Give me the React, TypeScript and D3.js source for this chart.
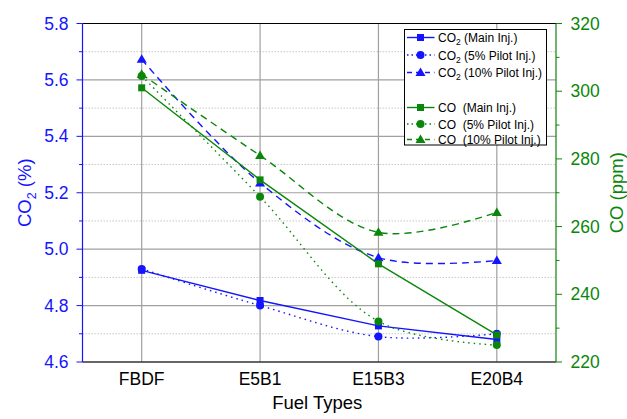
import * as React from "react";
import * as d3 from "d3";

const fuels = ["FBDF", "E5B1", "E15B3", "E20B4"];

// CO2 (%) - left axis
const co2Main = [4.925, 4.818, 4.728, 4.68];
const co2Pilot5 = [4.93, 4.80, 4.69, 4.70];
const co2Pilot10 = [5.673, 5.235, 4.97, 4.96];

// CO (ppm) - right axis
const coMain = [301, 273.8, 249, 228];
const coPilot5 = [304.5, 268.8, 232, 225];
const coPilot10 = [305, 281, 258.3, 264.2];

const co2Ticks = [4.6, 4.8, 5.0, 5.2, 5.4, 5.6, 5.8];
const coTicks = [220, 240, 260, 280, 300, 320];

const BLUE = "#1414ff";
const GREEN = "#0a870a";
const FONT = "Liberation Sans, Arial, sans-serif";

type Series = {
  name: string;
  sub: boolean;
  label: string;
  values: number[];
  axis: "left" | "right";
  color: string;
  dash: string;
  marker: "square" | "circle" | "triangle";
  smooth: boolean;
};

const series: Series[] = [
  { name: "CO", sub: true, label: " (Main Inj.)", values: co2Main, axis: "left", color: BLUE, dash: "", marker: "square", smooth: false },
  { name: "CO", sub: true, label: " (5% Pilot Inj.)", values: co2Pilot5, axis: "left", color: BLUE, dash: "1.5,4", marker: "circle", smooth: true },
  { name: "CO", sub: true, label: " (10% Pilot Inj.)", values: co2Pilot10, axis: "left", color: BLUE, dash: "7,5", marker: "triangle", smooth: true },
  { name: "CO", sub: false, label: "  (Main Inj.)", values: coMain, axis: "right", color: GREEN, dash: "", marker: "square", smooth: false },
  { name: "CO", sub: false, label: "  (5% Pilot Inj.)", values: coPilot5, axis: "right", color: GREEN, dash: "1.5,4", marker: "circle", smooth: true },
  { name: "CO", sub: false, label: "  (10% Pilot Inj.)", values: coPilot10, axis: "right", color: GREEN, dash: "7,5", marker: "triangle", smooth: true },
];

function Marker({ type, x, y, color }: { type: string; x: number; y: number; color: string }) {
  if (type === "square") return <rect x={x - 3.5} y={y - 3.5} width={7} height={7} fill={color} />;
  if (type === "circle") return <circle cx={x} cy={y} r={4} fill={color} />;
  return <path d={`M${x},${y - 5}L${x + 5},${y + 3.5}L${x - 5},${y + 3.5}Z`} fill={color} />;
}

export default function App() {
  const width = 627;
  const height = 419;
  const left = 82.5;
  const right = 556;
  const top = 23.5;
  const bottom = 362;

  const x = d3.scalePoint<string>().domain(fuels).range([left, right]).padding(0.5);
  const yL = d3.scaleLinear().domain([4.6, 5.8]).range([bottom, top]);
  const yR = d3.scaleLinear().domain([220, 320]).range([bottom, top]);

  const minorL = d3.range(4.7, 5.8, 0.2);
  const minorR = d3.range(230, 320, 20);

  const lineFor = (s: Series) => {
    const ys = s.axis === "left" ? yL : yR;
    return d3
      .line<number>()
      .x((_, i) => x(fuels[i]) as number)
      .y((v) => ys(v))
      .curve(s.smooth ? d3.curveCatmullRom.alpha(0.5) : d3.curveLinear)(s.values) as string;
  };

  const legendX = 404.5;
  const legendRows = [37.5, 55, 72.5, 107.5, 124, 139.5];

  return (
    <svg width={width} height={height} style={{ position: "absolute", left: 0, top: 0 }} fontFamily={FONT}>
      <rect width={width} height={height} fill="#fff" />
      {/* minor gridlines */}
      {minorL.map((v) => (
        <line key={"mg" + v} x1={left} x2={right} y1={yL(v)} y2={yL(v)} stroke="#c8c8c8" strokeDasharray="1.5,1.5" />
      ))}
      {/* major gridlines */}
      {co2Ticks.slice(1, -1).map((v) => (
        <line key={"g" + v} x1={left} x2={right} y1={yL(v)} y2={yL(v)} stroke="#a0a0a0" strokeWidth={1.2} />
      ))}
      {fuels.map((f) => (
        <line key={"vg" + f} x1={x(f)} x2={x(f)} y1={top} y2={bottom} stroke="#a0a0a0" strokeWidth={1.2} />
      ))}
      {/* frame */}
      <line x1={left} x2={right} y1={top} y2={top} stroke="#000" />
      <line x1={left} x2={right} y1={bottom} y2={bottom} stroke="#333" strokeWidth={1.5} />
      {/* left axis */}
      <line x1={left} x2={left} y1={top} y2={bottom} stroke={BLUE} strokeWidth={1.2} />
      {co2Ticks.map((v) => (
        <g key={"lt" + v}>
          <line x1={left - 6} x2={left} y1={yL(v)} y2={yL(v)} stroke={BLUE} />
          <text x={68.5} y={yL(v) + 6} textAnchor="end" fontSize={17.5} fill={BLUE}>
            {v.toFixed(1)}
          </text>
        </g>
      ))}
      {minorL.map((v) => (
        <line key={"lm" + v} x1={left - 3.5} x2={left} y1={yL(v)} y2={yL(v)} stroke={BLUE} />
      ))}
      <text transform={`translate(31,${(top + bottom) / 2}) rotate(-90)`} textAnchor="middle" fontSize={18.5} fill={BLUE}>
        CO<tspan fontSize={12.5} dy={4.5}>2</tspan>
        <tspan dy={-4.5}> (%)</tspan>
      </text>
      {/* right axis */}
      <line x1={right} x2={right} y1={top} y2={bottom} stroke={GREEN} strokeWidth={1.2} />
      {coTicks.map((v) => (
        <g key={"rt" + v}>
          <line x1={right} x2={right + 6} y1={yR(v)} y2={yR(v)} stroke={GREEN} />
          <text x={570.5} y={yR(v) + 6} textAnchor="start" fontSize={17.5} fill={GREEN}>
            {v}
          </text>
        </g>
      ))}
      {minorR.map((v) => (
        <line key={"rm" + v} x1={right} x2={right + 3.5} y1={yR(v)} y2={yR(v)} stroke={GREEN} />
      ))}
      <text transform={`translate(623,${(top + bottom) / 2}) rotate(-90)`} textAnchor="middle" fontSize={18.5} fill={GREEN}>
        CO (ppm)
      </text>
      {/* x axis labels */}
      {fuels.map((f) => (
        <text key={"xl" + f} x={x(f)} y={385} textAnchor="middle" fontSize={17.5} fill="#000">
          {f}
        </text>
      ))}
      <text x={(left + right) / 2 - 2} y={408.5} textAnchor="middle" fontSize={18.5} fill="#000">
        Fuel Types
      </text>
      {/* series */}
      {series.map((s, i) => (
        <path key={"s" + i} d={lineFor(s)} fill="none" stroke={s.color} strokeWidth={1.4} strokeDasharray={s.dash} />
      ))}
      {series.map((s, i) =>
        s.values.map((v, j) => (
          <Marker
            key={"m" + i + "-" + j}
            type={s.marker}
            x={x(fuels[j]) as number}
            y={(s.axis === "left" ? yL : yR)(v)}
            color={s.color}
          />
        ))
      )}
      {/* legend */}
      <rect x={legendX} y={29.5} width={142} height={115.5} fill="#fff" stroke="#000" />
      {series.map((s, i) => {
        const ly = legendRows[i];
        return (
          <g key={"lg" + i}>
            <line x1={legendX + 2.5} x2={legendX + 30} y1={ly} y2={ly} stroke={s.color} strokeWidth={1.4} strokeDasharray={s.dash ? (s.dash === "7,5" ? "5,4" : "1.5,3") : ""} />
            <Marker type={s.marker} x={legendX + 16} y={ly} color={s.color} />
            <text x={legendX + 33.5} y={ly + 4.5} fontSize={12} fill="#000">
              {s.name}
              {s.sub ? (
                <>
                  <tspan fontSize={8.5} dy={3}>2</tspan>
                  <tspan dy={-3}>{s.label}</tspan>
                </>
              ) : (
                <tspan xmlSpace="preserve">{s.label}</tspan>
              )}
            </text>
          </g>
        );
      })}
    </svg>
  );
}
